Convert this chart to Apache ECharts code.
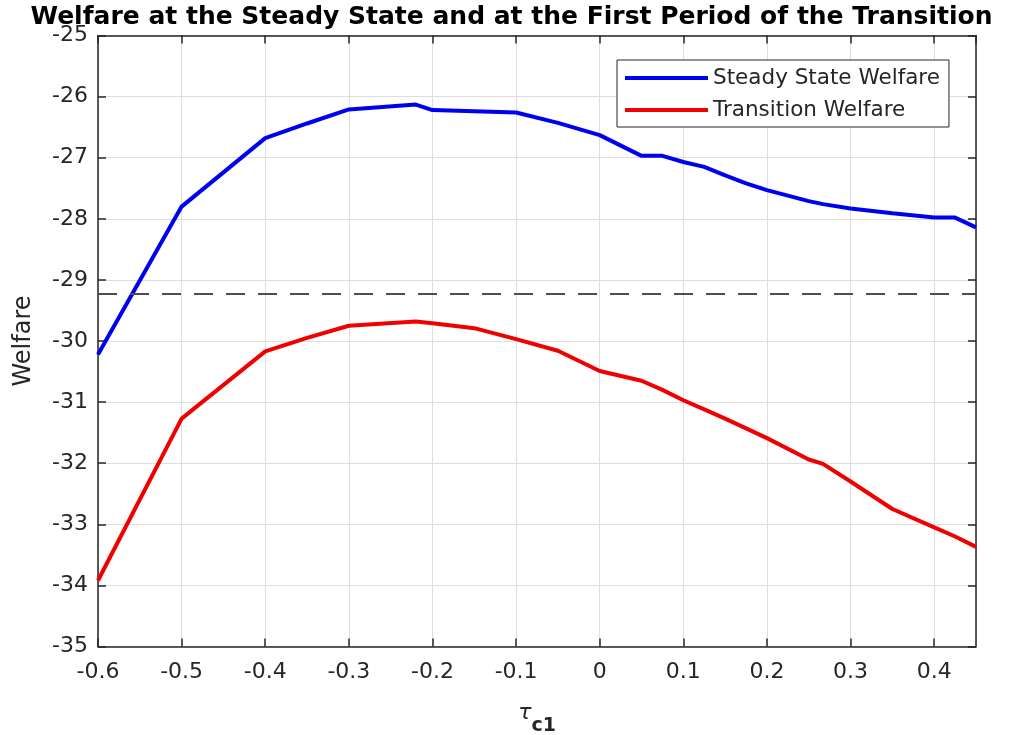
<!DOCTYPE html>
<html>
<head>
<meta charset="utf-8">
<title>Welfare</title>
<script src="https://cdn.jsdelivr.net/npm/echarts@6/dist/echarts.min.js"></script>
<style>
  html, body { margin: 0; padding: 0; background: #ffffff; }
  #chart { width: 1023px; height: 735px; }
</style>
</head>
<body>
<div id="chart"></div>
<script>
// consumption tax rate in the first period
const tauC1 = [-0.6, -0.5, -0.4, -0.35, -0.3, -0.22, -0.2, -0.15, -0.1, -0.05, 0, 0.05, 0.075, 0.1, 0.125, 0.15, 0.175, 0.2, 0.25, 0.267, 0.3, 0.35, 0.4, 0.425, 0.45];
// welfare in the steady state
const steadyWelfare = [-30.22, -27.80, -26.68, -26.44, -26.21, -26.13, -26.22, -26.24, -26.26, -26.43, -26.63, -26.97, -26.97, -27.07, -27.15, -27.29, -27.42, -27.53, -27.71, -27.76, -27.83, -27.91, -27.98, -27.98, -28.14];
// welfare in the first period of the transition
const transitionWelfare = [-33.92, -31.27, -30.17, -29.95, -29.75, -29.68, -29.71, -29.79, -29.97, -30.16, -30.49, -30.65, -30.80, -30.97, -31.12, -31.27, -31.43, -31.59, -31.94, -32.01, -32.30, -32.75, -33.05, -33.20, -33.37];
// reference welfare level
const baselineWelfare = -29.23;

const seriesNames = ['Steady State Welfare', 'Transition Welfare'];
const axisColor = '#262626';
const font = 'DejaVu Sans';

const pairs = ys => tauC1.map((x, i) => [x, ys[i]]);

const chart = echarts.init(document.getElementById('chart'), null, { renderer: 'canvas' });

const tickFmt = v => {
  if (Math.abs(v - 0.45) < 1e-9) return '';
  const r = Math.round(v * 10) / 10;
  return r === 0 ? '0' : String(r);
};

const frameLine = { show: true, onZero: false, lineStyle: { color: axisColor, width: 1.5 } };
const frameTick = { show: true, inside: true, length: 8, lineStyle: { color: axisColor, width: 1.5 } };

chart.setOption({
  animation: false,
  backgroundColor: '#ffffff',
  title: {
    text: 'Welfare at the Steady State and at the First Period of the Transition',
    left: 'center',
    top: 0,
    textStyle: { fontFamily: font, fontWeight: 'bold', fontSize: 25, color: '#000000' }
  },
  legend: {
    data: seriesNames,
    orient: 'vertical',
    left: 617,
    top: 60,
    icon: 'rect',
    itemWidth: 83,
    itemHeight: 4,
    itemGap: 10,
    padding: [7, 9, 6, 8],
    borderColor: axisColor,
    borderWidth: 1,
    backgroundColor: '#ffffff',
    textStyle: { fontFamily: font, fontSize: 21.5, color: axisColor, lineHeight: 21 }
  },
  grid: { left: 98, right: 47, top: 35.5, bottom: 88.5, containLabel: false, outerBoundsMode: 'none' },
  xAxis: [
    {
      type: 'value', position: 'bottom', min: -0.6, max: 0.45, interval: 0.1,
      name: '{t|τ}{s|c1}', nameLocation: 'middle', nameGap: 56,
      nameTextStyle: {
        rich: {
          t: { fontFamily: font, fontStyle: 'italic', fontSize: 22, color: axisColor, verticalAlign: 'top' },
          s: { fontFamily: font, fontWeight: 'bold', fontSize: 19, color: axisColor, padding: [14, 0, 0, 0] }
        }
      },
      axisLine: frameLine,
      axisTick: frameTick,
      axisLabel: { fontFamily: font, fontSize: 22, color: axisColor, margin: 15, formatter: tickFmt, showMaxLabel: false },
      splitLine: { show: true, lineStyle: { color: '#dedede', width: 1 } }
    },
    {
      type: 'value', position: 'top', min: -0.6, max: 0.45, interval: 0.1,
      axisLine: frameLine,
      axisTick: frameTick,
      axisLabel: { show: false },
      splitLine: { show: false }
    }
  ],
  yAxis: [
    {
      type: 'value', position: 'left', min: -35, max: -25, interval: 1,
      name: 'Welfare', nameLocation: 'middle', nameGap: 62,
      nameTextStyle: { fontFamily: font, fontSize: 24, color: axisColor },
      axisLine: frameLine,
      axisTick: frameTick,
      axisLabel: { fontFamily: font, fontSize: 22, color: axisColor, margin: 10, padding: [6, 0, 0, 0] },
      splitLine: { show: true, lineStyle: { color: '#dedede', width: 1 } }
    },
    {
      type: 'value', position: 'right', min: -35, max: -25, interval: 1,
      axisLine: frameLine,
      axisTick: frameTick,
      axisLabel: { show: false },
      splitLine: { show: false }
    }
  ],
  series: [
    {
      name: seriesNames[0], type: 'line', xAxisIndex: 0, yAxisIndex: 0,
      data: pairs(steadyWelfare), showSymbol: false, symbol: 'none',
      lineStyle: { color: '#0000f0', width: 4 }, itemStyle: { color: '#0000f0' },
      z: 3,
      markLine: {
        silent: true, symbol: 'none', label: { show: false },
        lineStyle: { color: '#4d4d4d', width: 2, type: [19, 13] },
        data: [{ yAxis: baselineWelfare }]
      }
    },
    {
      name: seriesNames[1], type: 'line', xAxisIndex: 0, yAxisIndex: 0,
      data: pairs(transitionWelfare), showSymbol: false, symbol: 'none',
      lineStyle: { color: '#f00000', width: 4 }, itemStyle: { color: '#f00000' },
      z: 3
    }
  ]
});
</script>
</body>
</html>
